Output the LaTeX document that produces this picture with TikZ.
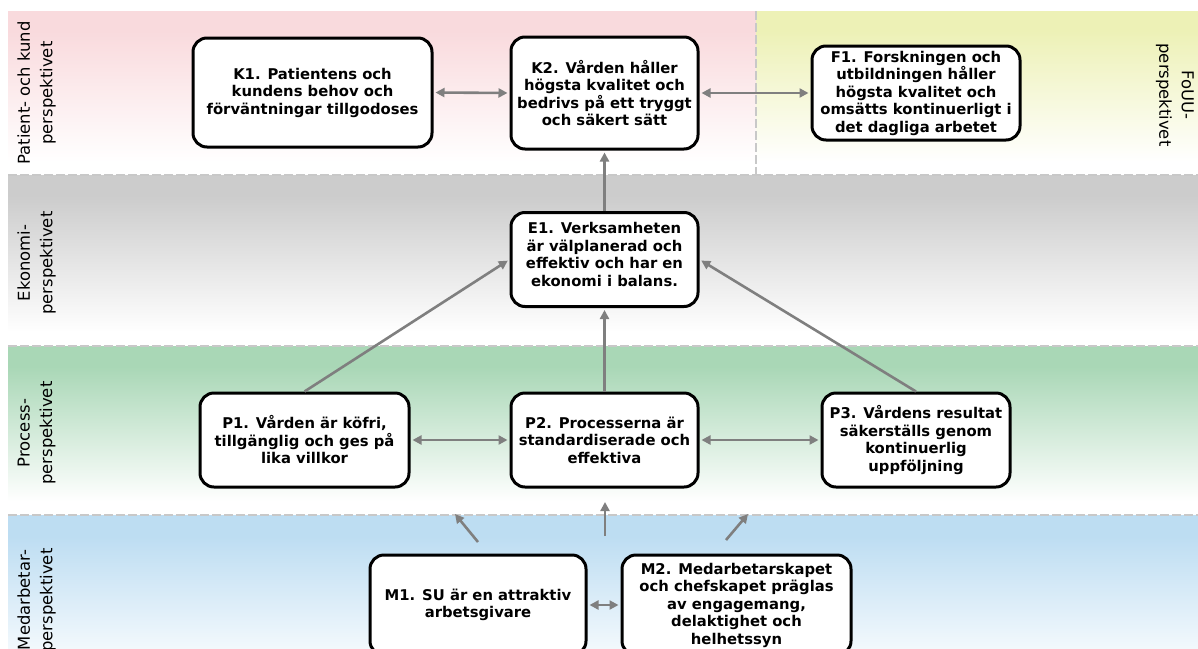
\documentclass[tikz,border=0pt]{standalone}
\usepackage{fontspec}
\setmainfont{DejaVu Sans}
\usetikzlibrary{arrows.meta}
\definecolor{pinkc}{HTML}{F9DADD}
\definecolor{yellowc}{HTML}{EDF1B6}
\definecolor{grayc}{HTML}{CCCCCC}
\definecolor{greenc}{HTML}{A9D7B6}
\definecolor{bluec}{HTML}{BDDDF2}
\definecolor{arrowgray}{HTML}{7F7F7F}
\definecolor{sepgray}{HTML}{C8C8C8}
\newcommand\bandfill[5]{%
  \fill[#5] (#1,#3) rectangle (#2,{#3+0.12*(#4-#3)});
  \shade[top color=#5, bottom color=white] (#1,{#3+0.12*(#4-#3)}) rectangle (#2,{#3+0.92*(#4-#3)});
}
\begin{document}
\begin{tikzpicture}[x=1pt,y=-1pt,
  box/.style={draw=black, line width=3pt, rounded corners=14pt, fill=white, align=center, inner sep=0pt,
    font=\fontsize{14.8}{17.5}\selectfont\bfseries},
  lab/.style={align=center, inner sep=0pt, font=\fontsize{16.4}{22.5}\selectfont},
  tipa/.tip={Triangle[length=9pt,width=9pt]},
  conn/.style={draw=arrowgray, line width=2.6pt, -tipa, shorten >=2pt},
  conntwo/.style={draw=arrowgray, line width=2.6pt, tipa-tipa, shorten >=2pt, shorten <=2pt},
  sep/.style={draw=sepgray, line width=1.8pt, dash pattern=on 9pt off 3pt}]
\useasboundingbox (0,0) rectangle (1198,648);
\clip (0,0) rectangle (1198,648);
% bands
\bandfill{8}{756}{11}{175}{pinkc}
\bandfill{756}{1198}{11}{175}{yellowc}
\bandfill{8}{1198}{175}{346}{grayc}
\bandfill{8}{1198}{346}{515}{greenc}
\bandfill{8}{1198}{515}{690}{bluec}
\draw[sep] (756,11) -- (756,175);
\draw[sep] (8,175) -- (1198,175);
\draw[sep] (8,346) -- (1198,346);
\draw[sep] (8,515) -- (1198,515);
% labels
\node[lab, rotate=90] (lk) at (36.5,93) {Patient- och kund\\perspektivet};
\node[lab, rotate=-90] (lf) at (1175,95) {FoUU-\\perspektivet};
\node[lab, rotate=90] (le) at (36.5,263) {Ekonomi-\\perspektivet};
\node[lab, rotate=90] (lp) at (36.5,433) {Process-\\perspektivet};
\node[lab, rotate=90] (lm) at (36.5,600) {Medarbetar-\\perspektivet};
% boxes
\node[box, minimum width=239pt, minimum height=109pt] (K1) at (312.5,92.5) {K1. Patientens och\\kundens behov och\\förväntningar tillgodoses};
\node[box, minimum width=187pt, minimum height=112pt] (K2) at (604.5,93) {K2. Vården håller\\högsta kvalitet och\\bedrivs på ett tryggt\\och säkert sätt};
\node[box, minimum width=208pt, minimum height=94pt] (F1) at (916,93) {F1. Forskningen och\\utbildningen håller\\högsta kvalitet och\\omsätts kontinuerligt i\\det dagliga arbetet};
\node[box, minimum width=187pt, minimum height=94pt] (E1) at (604.5,259.5) {E1. Verksamheten\\är välplanerad och\\effektiv och har en\\ekonomi i balans.\\[-7pt]};
\node[box, minimum width=209pt, minimum height=94pt] (P1) at (304.5,440) {P1. Vården är köfri,\\tillgänglig och ges på\\lika villkor};
\node[box, minimum width=187pt, minimum height=94pt] (P2) at (604.5,440) {P2. Processerna är\\standardiserade och\\effektiva};
\node[box, minimum width=188pt, minimum height=94pt] (P3) at (916,440) {P3. Vårdens resultat\\säkerställs genom\\kontinuerlig\\uppföljning};
\node[box, minimum width=216pt, minimum height=100pt] (M1) at (478,605) {M1. SU är en attraktiv\\arbetsgivare};
\node[box, minimum width=229pt, minimum height=100pt] (M2) at (736.5,605) {M2. Medarbetarskapet\\och chefskapet präglas\\av engagemang,\\delaktighet och\\helhetssyn};
% connectors
\draw[conntwo] (K1.east) -- (K2.west);
\draw[conntwo] (K2.east) -- (F1.west);
\draw[conn] (E1.north) -- (K2.south);
\draw[conn] (P1.north) -- (E1.west);
\draw[conn] (P2.north) -- (E1.south);
\draw[conn] (P3.north) -- (E1.east);
\draw[conntwo] (P1.east) -- (P2.west);
\draw[conntwo] (P2.east) -- (P3.west);
\draw[conntwo] (M1.east) -- (M2.west);
\coordinate (m1s) at (478,542);
\coordinate (m1e) at (455,514);
\coordinate (m2s) at (605,536);
\coordinate (m2e) at (605,502);
\coordinate (m3s) at (726,540);
\coordinate (m3e) at (748,514);
\draw[conn, shorten >=0pt] (m1s) -- (m1e);
\draw[conn, shorten >=0pt] (m2s) -- (m2e);
\draw[conn, shorten >=0pt] (m3s) -- (m3e);
\end{tikzpicture}
\end{document}
